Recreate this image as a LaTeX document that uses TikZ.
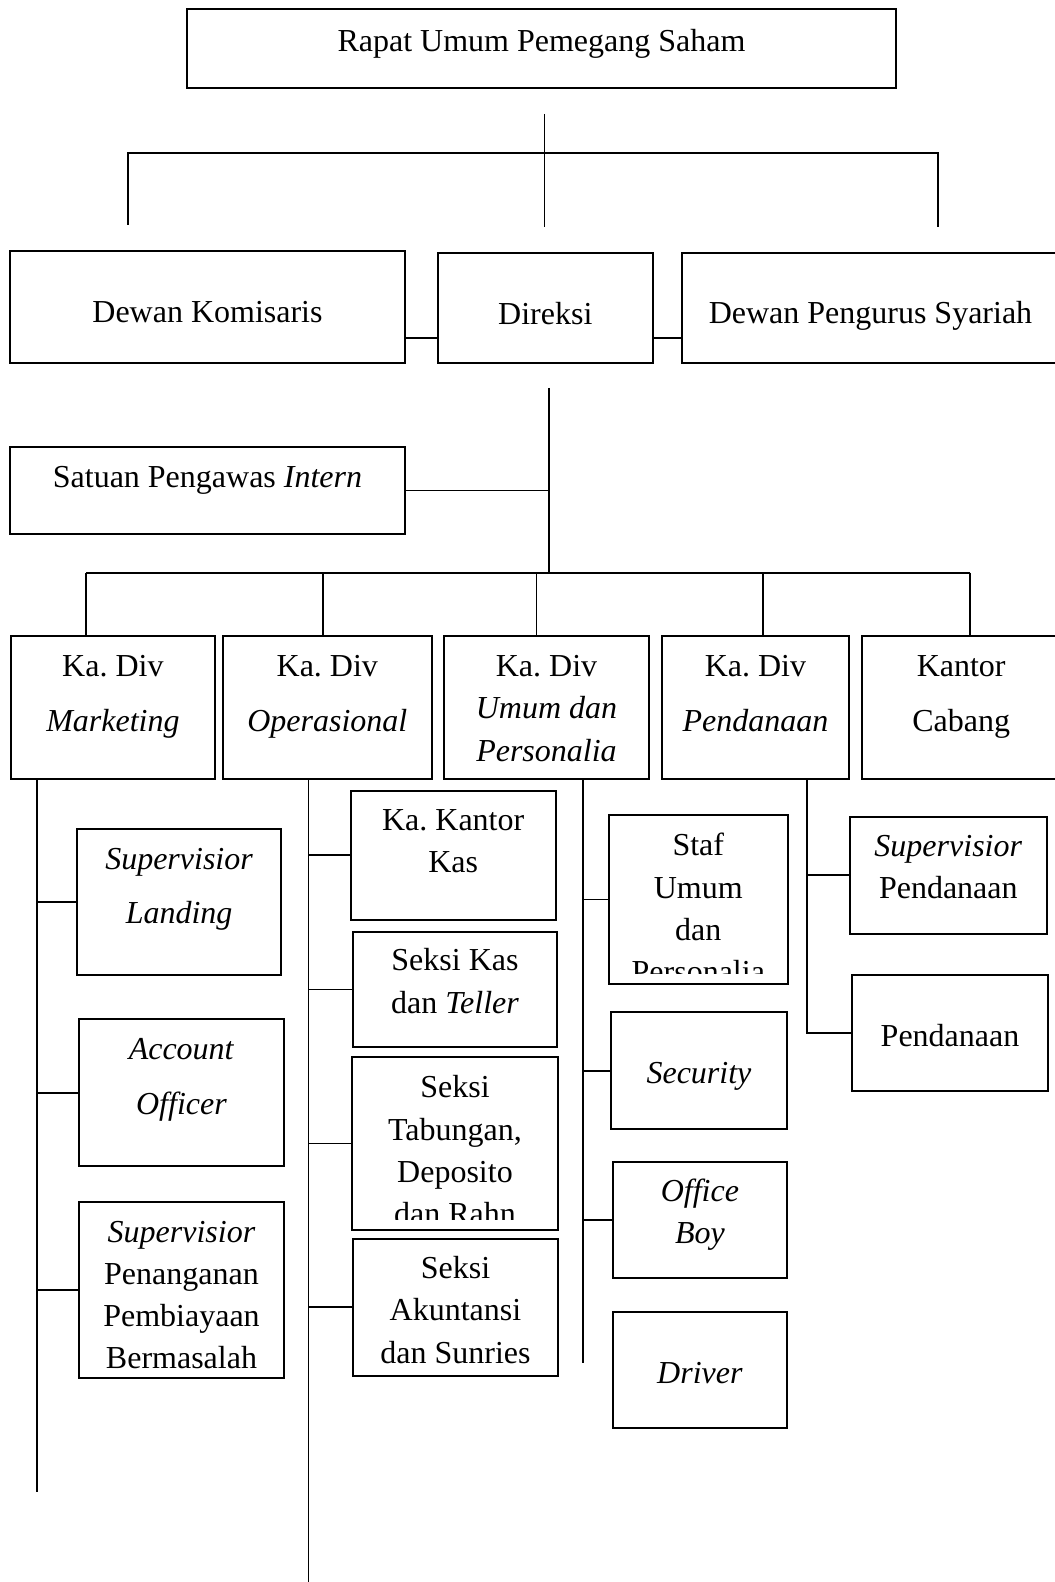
\documentclass[tikz,border=0pt]{standalone}
\usepackage{fontspec}
\setmainfont{Liberation Serif}
\usetikzlibrary{calc}
\tikzset{
  unit/.style n args={3}{
    draw=black,
    line width=1pt,
    inner sep=0pt,
    font=\fontsize{16}{21.15}\selectfont,
    execute at begin node={\begin{minipage}[t][#2][t]{#1}\centering\rule{0pt}{#3}},
    execute at end node={\end{minipage}}
  },
  wide lines/.style={font=\fontsize{16}{27.4}\selectfont},
  link/.style={draw=black,line width=.9pt},
  frame/.style={draw=black,line width=1pt}
}

\begin{document}
\begin{tikzpicture}[x=.5pt,y=-.5pt]
  \useasboundingbox (0,0) rectangle (1054,1582);
  \node[unit={354.5pt}{39.5pt}{21pt}] (rups) at (541.5,48.8) {Rapat Umum Pemegang Saham};
  \node[unit={197.5pt}{56.3pt}{36pt}] (dekom) at (207.5,307) {Dewan Komisaris};
  \node[unit={107.4pt}{55.3pt}{36pt}] (direksi) at (545.3,308) {Direksi};
  \node[unit={188.5pt}{55.3pt}{35.6pt}] (dps) at (870.5,308) {Dewan Pengurus Syariah};
  \node[unit={197.5pt}{43.8pt}{20.2pt}] (spi) at (207.5,490.5) {Satuan Pengawas \textit{Intern}};

  \node[unit={102.1pt}{71.7pt}{20.2pt},wide lines] (mkt) at (112.9,707.7) {Ka.\ Div\\\textit{Marketing}};
  \node[unit={104.3pt}{71.7pt}{20.2pt},wide lines] (ops) at (327.3,707.7) {Ka.\ Div\\\textit{Operasional}};
  \node[unit={102.9pt}{71.7pt}{20.2pt}] (umum) at (546.5,707.7) {Ka.\ Div\\\textit{Umum dan}\\\textit{Personalia}};
  \node[unit={93.5pt}{71.7pt}{20.2pt},wide lines] (dana) at (755.5,707.7) {Ka.\ Div\\\textit{Pendanaan}};
  \node[unit={98.8pt}{71.7pt}{20.2pt},wide lines] (cabang) at (961.2,707.7) {Kantor\\Cabang};

  \node[unit={102.3pt}{72.9pt}{20pt},wide lines] (sl) at (179.1,901.9) {\textit{Supervisior}\\\textit{Landing}};
  \node[unit={102.5pt}{73.4pt}{20.2pt},wide lines] (ao) at (181.5,1092.7) {\textit{Account}\\\textit{Officer}};
  \node[unit={102.5pt}{88pt}{20pt}] (sp) at (181.5,1290) {\textit{Supervisior}\\Penanganan\\Pembiayaan\\Bermasalah};

  \node[unit={102.5pt}{64.7pt}{20pt}] (kk) at (453.2,855.3) {Ka.\ Kantor\\Kas};
  \node[unit={102pt}{57.8pt}{19.6pt}] (sk) at (455,989.5) {Seksi Kas\\dan \textit{Teller}};
  \begin{scope}
    \clip (340,1040) rectangle (570,1219.3);
    \node[unit={102pt}{85.8pt}{20pt},draw=none] (st) at (455,1143.5) {Seksi\\Tabungan,\\Deposito\\dan Rahn};
  \end{scope}
  \draw[frame] (st.south west) rectangle (st.north east);
  \node[unit={102.5pt}{68.7pt}{20pt}] (sa) at (455.5,1307.3) {Seksi\\Akuntansi\\dan Sunries};

  \begin{scope}
    \clip (600,800) rectangle (800,973.3);
    \node[unit={88.7pt}{83.8pt}{20pt},draw=none] (su) at (698.3,899.5) {Staf\\Umum\\dan\\Personalia};
  \end{scope}
  \draw[frame] (su.south west) rectangle (su.north east);
  \node[unit={88pt}{58.4pt}{35.8pt}] (sec) at (699,1070.7) {\textit{Security}};
  \node[unit={87.1pt}{58.2pt}{19.8pt}] (ob) at (699.9,1219.9) {\textit{Office}\\\textit{Boy}};
  \node[unit={87.1pt}{58.2pt}{35.8pt}] (drv) at (699.9,1369.9) {\textit{Driver}};

  \node[unit={98.7pt}{58.4pt}{19.8pt}] (spd) at (948.3,875.3) {\textit{Supervisior}\\Pendanaan};
  \node[unit={98.3pt}{58.3pt}{35.8pt}] (pd) at (950,1033) {Pendanaan};

  \coordinate (rupsTop) at (544.5,114);
  \coordinate (rupsEnd) at (544.5,227);
  \coordinate (komEnd) at (128,225);
  \coordinate (dpsEnd) at (938,227);
  \draw[link] (rupsTop) -- (rupsEnd);
  \draw[link] (komEnd) -- (komEnd |- 0,153) -- (dpsEnd |- 0,153) -- (dpsEnd);
  \draw[link] (dekom.east |- 0,337.7) -- (direksi.west |- 0,337.7);
  \draw[link] (direksi.east |- 0,337.7) -- (dps.west |- 0,337.7);

  \coordinate (dirTop) at (549,388);
  \coordinate (hub) at (549,572.7);
  \draw[link] (dirTop) -- (hub);
  \draw[link] (spi.east) -- (spi.east -| hub);
  \draw[link] (hub -| 86,0) -- (hub -| 970,0);
  \foreach \x/\n in {86/mkt,322.6/ops,536.4/umum,763/dana,970/cabang}
    \draw[link] (hub -| \x,0) -- (\n.north -| \x,0);

  \coordinate (mktEnd) at (37,1492);
  \draw[link] (mkt.south -| mktEnd) -- (mktEnd);
  \foreach \n in {sl,ao,sp}
    \draw[link] (\n.west -| mktEnd) -- (\n.west);

  \coordinate (opsEnd) at (308.5,1582);
  \draw[link] (ops.south -| opsEnd) -- (opsEnd);
  \foreach \n in {kk,sk,st,sa}
    \draw[link] (\n.west -| opsEnd) -- (\n.west);

  \coordinate (umumEnd) at (583,1363);
  \draw[link] (umum.south -| umumEnd) -- (umumEnd);
  \foreach \n in {su,sec,ob}
    \draw[link] (\n.west -| umumEnd) -- (\n.west);

  \coordinate (danaX) at (807.3,0);
  \draw[link] (dana.south -| danaX) -- (pd.west -| danaX) -- (pd.west);
  \draw[link] (spd.west -| danaX) -- (spd.west);
\end{tikzpicture}
\end{document}
